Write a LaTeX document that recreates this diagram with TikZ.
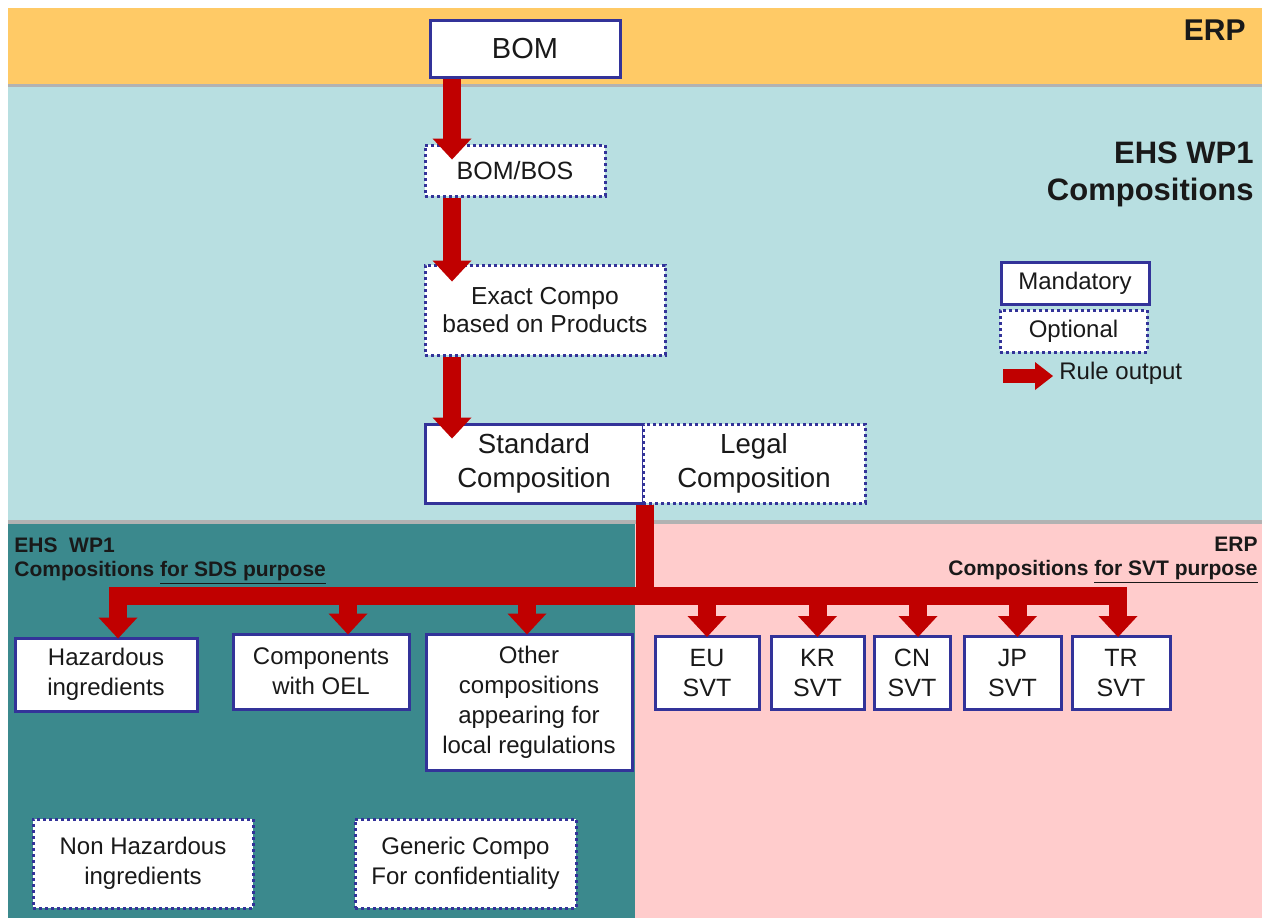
\documentclass[tikz,border=0pt]{standalone}
\usepackage{fontspec}
\setmainfont{Liberation Sans}
\usetikzlibrary{arrows.meta}
\usetikzlibrary{calc}

\definecolor{erporange}{HTML}{FFCA66}
\definecolor{ehscyan}{HTML}{B8DFE1}
\definecolor{sdsteal}{HTML}{3B898D}
\definecolor{svtpink}{HTML}{FFCCCC}
\definecolor{rulered}{HTML}{C00000}
\definecolor{boxnavy}{HTML}{333399}

\tikzstyle{mandbox}=[%
  draw=boxnavy,
  fill=white,
  line width=1.5pt,
  inner sep=0pt,
  align=center,
  text=black!90,
  font=\fontsize{12}{15}\selectfont
]
\tikzstyle{optbox}=[mandbox, dash pattern=on 1.4pt off 1.6pt]
\tikzstyle{rule}=[%
  draw=rulered,
  line width=9pt,
  line join=miter,
  -{Triangle[width=19.5pt,length=10.5pt,line width=0pt]}
]
\tikzstyle{bandtitle}=[inner sep=0pt, text=black!90, font=\bfseries\fontsize{10.5}{12}\selectfont]

\begin{document}
\begin{tikzpicture}[x=0.5pt, y=-0.5pt]
      \useasboundingbox (0,0) rectangle (1262,918);
      % bands
      \fill[erporange] (8,8) rectangle (1262,85);
      \fill[ehscyan] (8,85) rectangle (1262,522);
      \fill[sdsteal] (8,522) rectangle (635,918);
      \fill[svtpink] (635,522) rectangle (1262,918);
      \draw[black!30, line width=1.5pt] (8,85) -- (1262,85);
      \draw[black!30, line width=2pt] (8,522) -- (1262,522);
      \node[bandtitle, anchor=east, font=\bfseries\fontsize{15}{18}\selectfont] (erptitle) at (1246,30) {ERP};
      \node[bandtitle, anchor=east, align=right, font=\bfseries\fontsize{15.5}{18.5}\selectfont] (ehstitle) at (1254,174) {EHS WP1\\Compositions};
      \node[bandtitle, anchor=west, align=left] (sdstitle) at (14,561) {EHS~ WP1\\Compositions \underline{for SDS purpose}};
      \node[bandtitle, anchor=east, align=right] (svttitle) at (1258,560) {ERP\\Compositions \underline{for SVT purpose}};
      % main chain
      \node[mandbox, minimum width=95pt, minimum height=28.5pt, font=\fontsize{14.5}{17}\selectfont] (bom) at (525,48.5) {BOM};
      \node[optbox, minimum width=90pt, minimum height=25.5pt, font=\fontsize{12.5}{15}\selectfont] (bombos) at (515,170.5) {BOM/BOS};
      \node[optbox, minimum width=120pt, minimum height=45pt, font=\fontsize{12.3}{14}\selectfont] (exact) at (545,310) {Exact Compo\\based on Products};
      \node[mandbox, minimum width=109pt, minimum height=39.5pt, font=\fontsize{13.8}{17}\selectfont] (std) at (534,463.5) {Standard\\Composition};
      \node[optbox, minimum width=111pt, minimum height=39.5pt, font=\fontsize{13.8}{17}\selectfont] (legal) at (754,463.5) {Legal\\Composition};
      % legend
      \node[mandbox, minimum width=74pt, minimum height=21pt] (mand) at (1075,283) {Mandatory};
      \node[optbox, minimum width=73.5pt, minimum height=21pt] (opt) at (1073.5,331) {Optional};
      \node[anchor=west, inner sep=0pt, text=black!90, font=\fontsize{12}{15}\selectfont] (ruletxt) at (1059,373) {Rule output};
      \coordinate (legtail) at (1003,376);
      \draw[rule, line width=7pt, shorten >=3pt, -{Triangle[width=14pt,length=9pt,line width=0pt]}] (legtail) -- (legtail -| ruletxt.west);
      % SDS compositions
      \node[mandbox, minimum width=91pt, minimum height=36.5pt] (haz) at (106,674.5) {Hazardous\\ingredients};
      \node[mandbox, minimum width=88pt, minimum height=37.5pt] (oel) at (321,671.5) {Components\\with OEL};
      \node[mandbox, minimum width=103pt, minimum height=68pt] (other) at (529,702) {Other\\compositions\\appearing for\\local regulations};
      \node[optbox, minimum width=110pt, minimum height=44.5pt] (nonhaz) at (143,863.5) {Non Hazardous\\ingredients};
      \node[optbox, minimum width=110.5pt, minimum height=44.5pt] (generic) at (465.5,863.5) {Generic Compo\\For confidentiality};
      % SVT compositions
      \foreach \name/\cx/\w/\lab in {eu/707/52/EU, kr/817.5/46.5/KR, cn/912/38/CN, jp/1012.5/48.5/JP, tr/1121/49/TR} {%
        \node[mandbox, minimum width=\w pt, minimum height=36.5pt, font=\fontsize{12.5}{15}\selectfont] (\name) at (\cx,673) {\lab\\SVT};
      }
      % rule outputs
      \coordinate (spine) at (452,0);
      \coordinate (bar) at (0,596);
      \draw[rule] (bom.south -| spine) -- ($(bombos.north -| spine)+(0,16)$);
      \draw[rule] (bombos.south -| spine) -- ($(exact.north -| spine)+(0,18)$);
      \draw[rule] (exact.south -| spine) -- ($(std.north -| spine)+(0,16)$);
      \foreach \kid/\dx in {haz/12, oel/27, other/-2, eu/0, kr/0, cn/6, jp/5, tr/-3} {%
        \draw[rule] (std.south east) -- (std.south east |- bar) -| ($(\kid.north)+(\dx,2)$);
      }
\end{tikzpicture}
\end{document}
